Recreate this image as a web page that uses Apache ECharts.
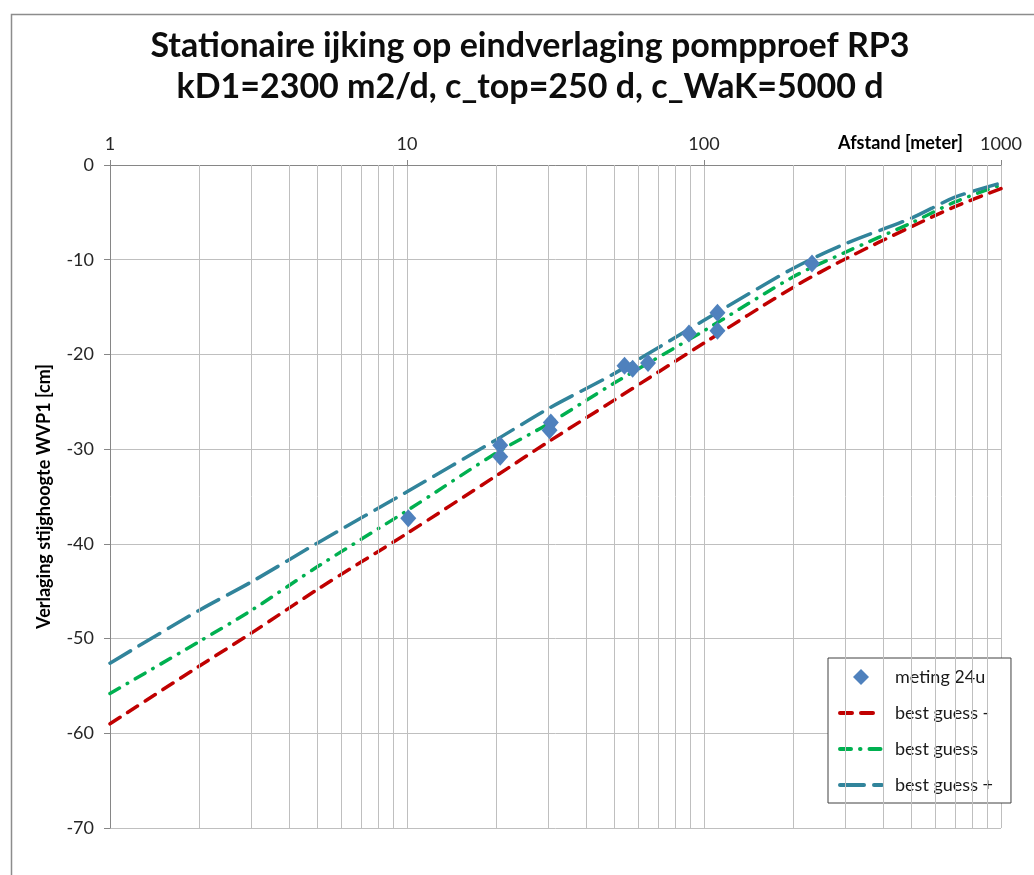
<!DOCTYPE html>
<html>
<head>
<meta charset="utf-8">
<script src="https://cdn.jsdelivr.net/npm/echarts@6/dist/echarts.min.js"></script>
<style>
  html, body { margin: 0; padding: 0; background: #ffffff; }
  #chart { width: 1034px; height: 875px; }
</style>
</head>
<body>
<div id="chart"></div>
<script>
// ---- data ----
var titleLines = ['Stationaire ijking op eindverlaging pompproef RP3', 'kD1=2300 m2/d, c_top=250 d, c_WaK=5000 d'];
var xName = 'Afstand [meter]';
var yName = 'Verlaging stijghoogte WVP1 [cm]';
var seriesNames = ['meting 24u', 'best guess -', 'best guess', 'best guess +'];

// measured points: [distance m, drawdown cm]
var metingX = [10.1, 20.6, 20.6, 30.5, 30.2, 54, 57.5, 64.8, 89, 111, 111, 231];
var metingY = [-37.3, -29.6, -30.8, -27.2, -28.0, -21.2, -21.5, -20.9, -17.8, -15.6, -17.5, -10.4];

// model curves sampled at these distances
var curveX = [1, 2, 3, 5, 10, 20, 30, 50, 100, 200, 300, 500, 700, 1000];
var bestMin  = [-59.0, -52.9, -49.4, -44.8, -38.9, -32.8, -29.2, -24.8, -18.8, -12.9, -9.9, -6.5, -4.4, -2.5];
var best     = [-55.8, -50.3, -47.0, -42.4, -36.5, -30.4, -27.3, -23.0, -17.5, -11.8, -9.2, -6.1, -3.9, -2.1];
var bestPlus = [-52.6, -47.0, -44.0, -39.9, -34.5, -29.0, -25.7, -22.0, -16.4, -10.9, -8.3, -5.6, -3.4, -1.9];

// minor vertical gridline positions on the log axis
var minorGrid = [2,3,4,5,6,7,8,9,20,30,40,50,60,70,80,90,200,300,400,500,600,700,800,900];

function zip(xs, ys) { return xs.map(function (x, i) { return [x, ys[i]]; }); }

var chart = echarts.init(document.getElementById('chart'));
var FONT = 'Lato, "Liberation Sans", sans-serif';
var gridColor = '#bfbfbf';
var NOFILL = 'rgba(0,0,0,0)';
var RED = '#c00000', GREEN = '#00b050', BLUE = '#31849b';
var dashRed = [12, 9], dashGreen = [11, 9, 0.5, 9], dashBlue = [24, 10];

var option = {
  animation: false,
  backgroundColor: '#ffffff',
  title: {
    text: titleLines.join('\n'),
    left: 525, textAlign: 'center', top: 21,
    textStyle: { fontFamily: FONT, fontWeight: 'bold', fontSize: 34, lineHeight: 41, color: '#0d0d0d' }
  },
  graphic: [
    { type: 'rect', left: 9, top: 12, silent: true, z: -10,
      shape: { width: 1100, height: 950 },
      style: { fill: 'none', stroke: '#8c8c8c', lineWidth: 1.5 } },
    { type: 'text', right: 71, top: 134, silent: true,
      style: { text: xName, font: 'bold 18px ' + FONT, fill: '#000' } }
  ],
  grid: { left: 110, right: 33, top: 165, bottom: 47 },
  legend: {
    orient: 'vertical', left: 828, top: 658,
    padding: [10, 18, 9, 10],
    itemGap: 18, itemWidth: 42, itemHeight: 16,
    backgroundColor: '#ffffff',
    borderColor: '#404040', borderWidth: 1, borderRadius: 0,
    textStyle: { fontFamily: FONT, fontSize: 18, color: '#1a1a1a', padding: [0, 0, 0, 8] },
    data: [
      { name: seriesNames[0], icon: 'path://M0,-1L1,0L0,1L-1,0Z' },
      { name: seriesNames[1], lineStyle: { color: RED, width: 4, type: dashRed, cap: 'round' } },
      { name: seriesNames[2], lineStyle: { color: GREEN, width: 4, type: dashGreen, cap: 'round' } },
      { name: seriesNames[3], lineStyle: { color: BLUE, width: 4, type: dashBlue, cap: 'round' } }
    ]
  },
  xAxis: {
    type: 'log', logBase: 10, min: 1, max: 1000, position: 'top',
    axisLine: { show: true, onZero: false, lineStyle: { color: '#868686' } },
    axisTick: { show: true, inside: false, length: 5, lineStyle: { color: '#868686' } },
    axisLabel: { fontFamily: FONT, fontSize: 18, color: '#262626', margin: 12,
      formatter: function (v) { return String(Math.round(v)); } },
    splitLine: { show: true, lineStyle: { color: gridColor, width: 1 } }
  },
  yAxis: {
    type: 'value', min: -70, max: 0, interval: 10,
    name: yName, nameLocation: 'middle', nameGap: 57, nameRotate: 90,
    nameTextStyle: { fontFamily: FONT, fontWeight: 'bold', fontSize: 18, color: '#000' },
    axisLine: { show: true, lineStyle: { color: '#868686' } },
    axisTick: { show: true, length: 6, lineStyle: { color: '#868686' } },
    axisLabel: { fontFamily: FONT, fontSize: 18, color: '#262626', margin: 16 },
    splitLine: { show: true, lineStyle: { color: gridColor, width: 1 } }
  },
  series: [
    {
      name: '_minor', type: 'line', data: [], silent: true,
      markLine: {
        silent: true, symbol: ['none', 'none'], label: { show: false },
        lineStyle: { color: gridColor, width: 1, type: 'solid' },
        animation: false,
        data: minorGrid.map(function (v) { return { xAxis: v }; })
      }
    },
    {
      name: seriesNames[1], type: 'line', data: zip(curveX, bestMin),
      symbol: 'none', smooth: 0.3, z: 3,
      itemStyle: { color: NOFILL, borderColor: NOFILL },
      lineStyle: { color: RED, width: 3.5, type: dashRed, cap: 'round' }
    },
    {
      name: seriesNames[2], type: 'line', data: zip(curveX, best),
      symbol: 'none', smooth: 0.3, z: 3,
      itemStyle: { color: NOFILL, borderColor: NOFILL },
      lineStyle: { color: GREEN, width: 3.5, type: dashGreen, cap: 'round' }
    },
    {
      name: seriesNames[3], type: 'line', data: zip(curveX, bestPlus),
      symbol: 'none', smooth: 0.3, z: 3,
      itemStyle: { color: NOFILL, borderColor: NOFILL },
      lineStyle: { color: BLUE, width: 3.5, type: dashBlue, cap: 'round' }
    },
    {
      name: seriesNames[0], type: 'scatter', data: zip(metingX, metingY),
      symbol: 'diamond', symbolSize: [16, 18], z: 5,
      itemStyle: { color: '#4f81bd', opacity: 1 }
    }
  ]
};
chart.setOption(option);
</script>
</body>
</html>
